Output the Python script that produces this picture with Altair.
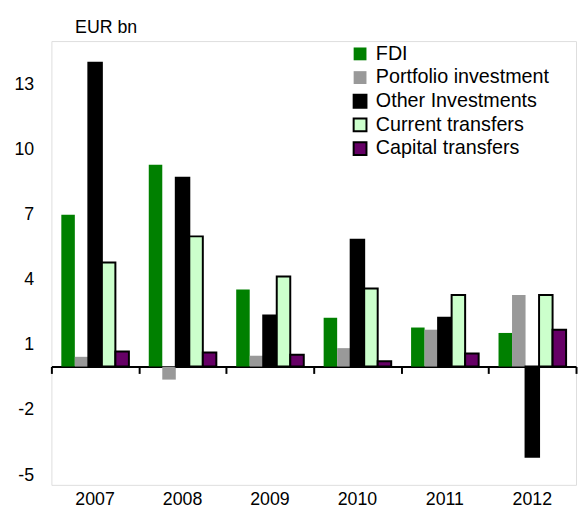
import altair as alt
import pandas as pd

years = ["2007", "2008", "2009", "2010", "2011", "2012"]
series = ["FDI", "Portfolio investment", "Other Investments", "Current transfers", "Capital transfers"]
fdi = [7.0, 9.3, 3.55, 2.25, 1.8, 1.55]
portfolio = [0.45, -0.6, 0.5, 0.85, 1.7, 3.3]
other = [14.0, 8.7, 2.35, 5.85, 2.25, -4.15]
current = [4.8, 6.0, 4.15, 3.6, 3.3, 3.3]
capital = [0.7, 0.65, 0.55, 0.25, 0.6, 1.7]
fill_colors = ["#008000", "#999999", "#000000", "#ccffcc", "#660066"]
stroke_colors = ["transparent", "transparent", "#000000", "#000000", "#000000"]
y_ticks = [-5, -2, 1, 4, 7, 10, 13]

rows = []
for name, vals in zip(series, [fdi, portfolio, other, current, capital]):
    for yr, v in zip(years, vals):
        rows.append({"year": yr, "series": name, "value": v})
df = pd.DataFrame(rows)

FONT = "Liberation Sans"

legend = alt.Legend(
    orient="none", legendX=303, legendY=3, title=None,
    labelFontSize=20, labelFont=FONT, labelColor="black", labelLimit=0,
    symbolType="square", symbolSize=169, symbolStrokeWidth=2,
    symbolOpacity=1, rowPadding=2, labelOffset=6, padding=0,
)

bars = alt.Chart(df).mark_bar(strokeWidth=2).encode(
    x=alt.X(
        "year:N", sort=years,
        scale=alt.Scale(paddingInner=0, paddingOuter=0),
        axis=alt.Axis(
            orient="bottom", offset=-120, labels=False, title=None, grid=False,
            tickBand="extent", tickSize=7, tickWidth=2, tickColor="black",
            domainColor="black", domainWidth=2,
        ),
    ),
    xOffset=alt.XOffset("series:N", sort=series,
                        scale=alt.Scale(paddingOuter=0.735, paddingInner=0)),
    y=alt.Y(
        "value:Q",
        scale=alt.Scale(domain=[-5.45, 15], nice=False, zero=False),
        axis=alt.Axis(
            values=y_ticks, domain=False, ticks=False, grid=False,
            labelExpr="datum.value + ''",
            labelFontSize=18, labelFont=FONT, labelColor="black", labelPadding=18,
            title="EUR bn", titleAngle=0, titleX=55, titleY=-9,
            titleAlign="center", titleBaseline="alphabetic",
            titleFontSize=18, titleFont=FONT, titleFontWeight="normal", titleColor="black",
        ),
    ),
    fill=alt.Fill("series:N", sort=series,
                  scale=alt.Scale(domain=series, range=fill_colors), legend=legend),
    stroke=alt.Stroke("series:N", sort=series,
                      scale=alt.Scale(domain=series, range=stroke_colors), legend=legend),
)

year_labels = alt.Chart(pd.DataFrame({"year": years})).mark_tick(opacity=0).encode(
    x=alt.X(
        "year:N", sort=years,
        scale=alt.Scale(paddingInner=0, paddingOuter=0),
        axis=alt.Axis(
            orient="bottom", domain=False, ticks=False, grid=False, title=None,
            labelFontSize=18, labelFont=FONT, labelColor="black", labelPadding=6,
            labelAngle=0,
        ),
    ),
)

chart = alt.layer(bars, year_labels).resolve_axis(x="independent").properties(
    width=532, height=450,
    padding={"left": 44, "top": 30, "right": 2, "bottom": 25},
    autosize=alt.AutoSizeParams(type="none"),
).configure_view(stroke=None).configure(font=FONT)

chart.save("out.html", embed_options={"renderer": "svg", "actions": False})
